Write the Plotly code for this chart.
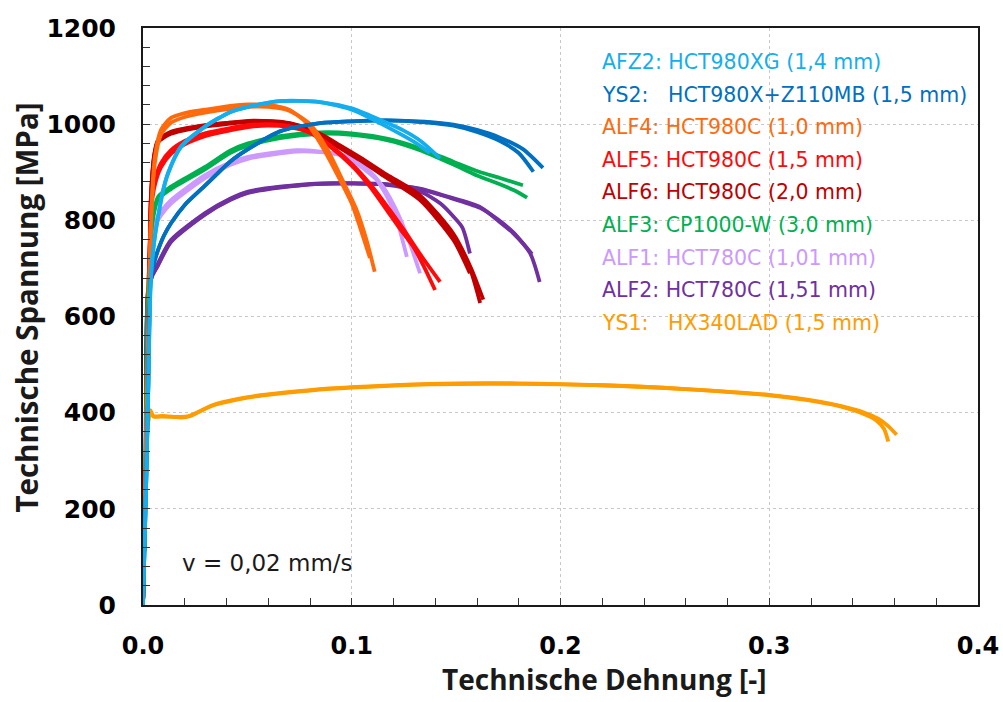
import plotly.graph_objects as go

# ---- Tensile test data: engineering strain [-] and engineering stress [MPa] ----
# Each material has several specimens (one list per specimen).

YS1_STRAIN = [
    [0, 0.001, 0.002, 0.0035, 0.005, 0.01, 0.018, 0.022, 0.0335, 0.045, 0.0575, 0.08, 0.1, 0.1375,
     0.18, 0.22, 0.26, 0.3, 0.324, 0.335, 0.345, 0.351, 0.355, 0.357],
    [0, 0.001, 0.002, 0.0035, 0.005, 0.01, 0.018, 0.022, 0.0335, 0.045, 0.0575, 0.08, 0.1, 0.1375,
     0.18, 0.22, 0.26, 0.3, 0.324, 0.335, 0.345, 0.352, 0.357, 0.361],
]
YS1_STRESS = [
    [0, 200, 360, 405, 393, 393, 390, 392, 416, 428, 437, 447, 453, 460,
     461, 457, 449, 436, 422, 412, 398, 385, 366, 340],
    [0, 200, 360, 402, 392, 392, 391, 393, 415, 427, 436, 446, 452, 459,
     460, 457, 449, 437, 423, 413, 401, 388, 372, 354],
]

AFZ2_STRAIN = [
    [0, 0.0015, 0.0025, 0.0038, 0.0055, 0.0072, 0.0095, 0.012, 0.0182, 0.0297, 0.0417, 0.0503,
     0.0656, 0.0848, 0.1, 0.1087, 0.1167, 0.1247, 0.131, 0.1375],
    [0, 0.0015, 0.0025, 0.0038, 0.0055, 0.0072, 0.0095, 0.012, 0.0182, 0.0297, 0.0417, 0.0503,
     0.0656, 0.0848, 0.1, 0.1087, 0.1167, 0.1247, 0.133, 0.1423],
]
AFZ2_STRESS = [
    [0, 250, 450, 683, 760, 807, 860, 898, 953, 995, 1025, 1036, 1048, 1046, 1030, 1013, 995,
     976, 960, 940],
    [0, 250, 450, 683, 760, 807, 860, 898, 953, 995, 1025, 1036, 1048, 1046, 1033, 1018, 1003,
     987, 965, 929],
]

YS2_STRAIN = [
    [0, 0.0015, 0.0025, 0.0038, 0.0055, 0.0072, 0.01, 0.0134, 0.02, 0.0297, 0.0417, 0.0503,
     0.0656, 0.0848, 0.1, 0.1168, 0.135, 0.1487, 0.16, 0.171, 0.18, 0.187],
    [0, 0.0015, 0.0025, 0.0038, 0.0055, 0.0072, 0.01, 0.0134, 0.02, 0.0297, 0.0417, 0.0503,
     0.0656, 0.0848, 0.1, 0.1168, 0.135, 0.1487, 0.16, 0.171, 0.182, 0.1916],
]
YS2_STRESS = [
    [0, 250, 450, 683, 715, 738, 768, 794, 832, 872, 922, 948, 985, 1002, 1006, 1008, 1004,
     997, 984, 965, 940, 901],
    [0, 250, 450, 683, 715, 738, 768, 794, 832, 872, 922, 948, 985, 1002, 1006, 1008, 1005,
     999, 988, 972, 948, 909],
]

ALF4_STRAIN = [
    [0, 0.0012, 0.0025, 0.0038, 0.0057, 0.0086, 0.0134, 0.02, 0.0297, 0.0417, 0.0503, 0.06,
     0.07, 0.0785, 0.0863, 0.0944, 0.1, 0.104, 0.1087],
    [0, 0.0012, 0.0025, 0.0038, 0.0057, 0.0086, 0.0134, 0.02, 0.0297, 0.0417, 0.0503, 0.06,
     0.07, 0.08, 0.088, 0.096, 0.102, 0.107, 0.111],
]
ALF4_STRESS = [
    [0, 280, 560, 800, 932, 988, 1013, 1023, 1030, 1038, 1041, 1040, 1030, 1002, 950, 884, 835,
     785, 722],
    [0, 280, 560, 790, 920, 978, 1003, 1015, 1024, 1032, 1036, 1036, 1028, 1000, 950, 880, 825,
     760, 693],
]

ALF5_STRAIN = [
    [0, 0.0012, 0.0025, 0.0038, 0.0055, 0.0086, 0.0134, 0.02, 0.0297, 0.0417, 0.0503, 0.06,
     0.07, 0.08, 0.09, 0.1006, 0.1087, 0.1168, 0.1235, 0.1295, 0.135, 0.1399],
    [0, 0.0012, 0.0025, 0.0038, 0.0055, 0.0086, 0.0134, 0.02, 0.0297, 0.0417, 0.0503, 0.06,
     0.07, 0.08, 0.09, 0.1006, 0.1087, 0.1168, 0.125, 0.133, 0.1423],
]
ALF5_STRESS = [
    [0, 250, 520, 828, 880, 919, 946, 965, 981, 992, 998, 1000, 996, 982, 952, 911, 870, 821,
     780, 745, 700, 655],
    [0, 250, 520, 815, 870, 910, 938, 958, 975, 987, 994, 997, 994, 983, 955, 915, 876, 830,
     780, 728, 672],
]

ALF6_STRAIN = [
    [0, 0.0012, 0.0025, 0.0038, 0.0055, 0.0072, 0.0134, 0.0297, 0.0417, 0.0503, 0.0656, 0.075,
     0.0848, 0.0944, 0.104, 0.1168, 0.1327, 0.1487, 0.1566],
    [0, 0.0012, 0.0025, 0.0038, 0.0055, 0.0072, 0.0134, 0.0297, 0.0417, 0.0503, 0.0656, 0.075,
     0.0848, 0.0944, 0.104, 0.1168, 0.1327, 0.1487, 0.1566, 0.1615],
    [0, 0.0012, 0.0025, 0.0038, 0.0055, 0.0072, 0.0134, 0.0297, 0.0417, 0.0503, 0.0656, 0.075,
     0.0848, 0.0944, 0.104, 0.1168, 0.1327, 0.1487, 0.157, 0.163],
]
ALF6_STRESS = [
    [0, 250, 520, 850, 940, 967, 984, 998, 1003, 1007, 1005, 995, 975, 950, 925, 888, 842, 759,
     690],
    [0, 250, 520, 845, 935, 962, 980, 995, 1001, 1005, 1004, 996, 978, 953, 928, 892, 848,
     768, 700, 628],
    [0, 250, 520, 848, 938, 965, 983, 997, 1003, 1006, 1005, 997, 980, 956, 931, 895, 852,
     772, 702, 635],
]

ALF3_STRAIN = [
    [0, 0.0012, 0.0024, 0.0045, 0.0072, 0.0134, 0.0297, 0.0417, 0.0503, 0.0656, 0.0848, 0.1,
     0.1168, 0.1327, 0.1487, 0.161, 0.171, 0.182],
    [0, 0.0012, 0.0024, 0.0045, 0.0072, 0.0134, 0.0297, 0.0417, 0.0503, 0.0656, 0.0848, 0.1,
     0.1168, 0.1327, 0.1487, 0.16, 0.171, 0.178, 0.184],
]
ALF3_STRESS = [
    [0, 300, 650, 800, 849, 870, 911, 945, 960, 975, 983, 981, 970, 950, 922, 901, 888, 873],
    [0, 300, 650, 795, 843, 865, 906, 940, 955, 971, 980, 978, 967, 946, 916, 893, 875, 862,
     847],
]

ALF1_STRAIN = [
    [0, 0.0012, 0.0025, 0.004, 0.0057, 0.0086, 0.0134, 0.0297, 0.0417, 0.0503, 0.0737, 0.0848,
     0.0944, 0.1006, 0.106, 0.112, 0.12, 0.1264],
    [0, 0.0012, 0.0025, 0.004, 0.0057, 0.0086, 0.0134, 0.0297, 0.0417, 0.0503, 0.0737, 0.0848,
     0.0944, 0.1006, 0.108, 0.115, 0.122, 0.128, 0.1327],
]
ALF1_STRESS = [
    [0, 250, 520, 740, 794, 818, 842, 894, 920, 932, 946, 943, 936, 923, 906, 884, 821, 724],
    [0, 250, 520, 730, 786, 810, 835, 888, 915, 928, 943, 942, 937, 928, 905, 870, 815, 750,
     690],
]

ALF2_STRAIN = [
    [0, 0.0012, 0.0024, 0.0045, 0.0072, 0.0134, 0.0297, 0.0417, 0.0503, 0.0656, 0.0848, 0.1,
     0.1168, 0.1327, 0.1425, 0.1487, 0.153, 0.1566],
    [0, 0.0012, 0.0024, 0.0045, 0.0072, 0.0134, 0.0297, 0.0417, 0.0503, 0.0656, 0.0848, 0.1,
     0.1168, 0.1327, 0.1455, 0.1614, 0.1696, 0.1774, 0.1863],
    [0, 0.0012, 0.0024, 0.0045, 0.0072, 0.0134, 0.0297, 0.0417, 0.0503, 0.0656, 0.0848, 0.1,
     0.1168, 0.1327, 0.1455, 0.1614, 0.1696, 0.1774, 0.1854, 0.19],
]
ALF2_STRESS = [
    [0, 250, 655, 690, 711, 759, 815, 845, 860, 870, 877, 877, 874, 860, 835, 808, 785, 731],
    [0, 250, 650, 685, 706, 755, 812, 842, 857, 868, 876, 877, 875, 865, 849, 826, 803, 775,
     730],
    [0, 250, 650, 686, 708, 757, 813, 843, 858, 869, 876, 877, 875, 866, 850, 828, 801, 773,
     732, 672],
]

# Drawing order (first = bottom) and colours
MATERIALS = [
    ("YS1", YS1_STRAIN, YS1_STRESS, "#FF9C00"),
    ("ALF2", ALF2_STRAIN, ALF2_STRESS, "#7030A0"),
    ("ALF1", ALF1_STRAIN, ALF1_STRESS, "#CC99FF"),
    ("ALF3", ALF3_STRAIN, ALF3_STRESS, "#00B050"),
    ("ALF6", ALF6_STRAIN, ALF6_STRESS, "#C00000"),
    ("ALF5", ALF5_STRAIN, ALF5_STRESS, "#FF0A0A"),
    ("ALF4", ALF4_STRAIN, ALF4_STRESS, "#FF6A0D"),
    ("YS2", YS2_STRAIN, YS2_STRESS, "#0070C0"),
    ("AFZ2", AFZ2_STRAIN, AFZ2_STRESS, "#14AEEE"),
]

LEGEND_LINES = [
    ("AFZ2: HCT980XG (1,4 mm)", "#14AEEE"),
    ("YS2:\u00a0\u00a0\u00a0HCT980X+Z110MB (1,5 mm)", "#0070C0"),
    ("ALF4: HCT980C (1,0 mm)", "#FF6A0D"),
    ("ALF5: HCT980C (1,5 mm)", "#FF0A0A"),
    ("ALF6: HCT980C (2,0 mm)", "#C00000"),
    ("ALF3: CP1000-W (3,0 mm)", "#00B050"),
    ("ALF1: HCT780C (1,01 mm)", "#CC99FF"),
    ("ALF2: HCT780C (1,51 mm)", "#7030A0"),
    ("YS1:\u00a0\u00a0\u00a0HX340LAD (1,5 mm)", "#FF9C00"),
]

X_TICKS = [0.0, 0.1, 0.2, 0.3, 0.4]
Y_TICKS = [0, 200, 400, 600, 800, 1000, 1200]

fig = go.Figure()

for name, strains, stresses, color in MATERIALS:
    for i, (e, s) in enumerate(zip(strains, stresses)):
        fig.add_trace(go.Scatter(
            x=e, y=s, mode="lines", name=f"{name}-{i + 1}",
            line=dict(color=color, width=3.8, shape="spline", smoothing=0.7),
            showlegend=False, hoverinfo="skip",
        ))

axis_common = dict(
    ticks="inside", ticklen=7, tickwidth=1.2, tickcolor="#333",
    showgrid=True, gridcolor="#C8C8C8", griddash="dot", gridwidth=1,
    showline=True, linecolor="#1a1a1a", linewidth=2, mirror=True,
    zeroline=False, automargin=False,
)

fig.update_xaxes(
    range=[0, 0.4], tickvals=X_TICKS, ticktext=[f"{v:.1f}" for v in X_TICKS],
    tickfont=dict(family="DejaVu Sans", size=24, color="black", weight="bold"),
    minor=dict(dtick=0.02, tick0=0, ticks="inside", ticklen=7, tickwidth=1.2,
               tickcolor="#333", showgrid=False),
    ticklabelstandoff=18, **axis_common,
)
fig.update_yaxes(
    range=[0, 1200], tickvals=Y_TICKS,
    tickfont=dict(family="DejaVu Sans", size=25, color="black", weight="bold"),
    minor=dict(dtick=40, tick0=0, ticks="inside", ticklen=7, tickwidth=1.2,
               tickcolor="#333", showgrid=False),
    ticklabelstandoff=20, **axis_common,
)

annotations = []
# legend block (coloured text)
legend_top = 0.941
legend_step = 0.0565
for k, (text, color) in enumerate(LEGEND_LINES):
    annotations.append(dict(
        x=0.547, y=legend_top - k * legend_step, xref="paper", yref="paper",
        xanchor="left", yanchor="middle", text=text, showarrow=False,
        font=dict(family="DejaVu Sans", size=20.5, color=color),
    ))

annotations.append(dict(
    x=0.0443, y=0.0728, xref="paper", yref="paper", xanchor="left", yanchor="middle",
    text="v = 0,02 mm/s", showarrow=False,
    font=dict(family="DejaVu Sans", size=23, color="#1a1a1a"),
))
annotations.append(dict(
    x=0.553, y=-0.128, xref="paper", yref="paper", xanchor="center", yanchor="middle",
    text="Technische Dehnung [-]", showarrow=False,
    font=dict(family="Open Sans", size=28, color="#1a1a1a", weight="bold"),
))
annotations.append(dict(
    x=-0.140, y=0.5156, xref="paper", yref="paper", xanchor="center", yanchor="middle",
    text="Technische Spannung [MPa]", showarrow=False, textangle=-90,
    font=dict(family="Open Sans", size=29.5, color="#1a1a1a", weight="bold"),
))

fig.update_layout(
    width=1003, height=702,
    margin=dict(l=143, r=25, t=28, b=97),
    paper_bgcolor="white", plot_bgcolor="white",
    annotations=annotations,
)

fig.write_html("out.html")
